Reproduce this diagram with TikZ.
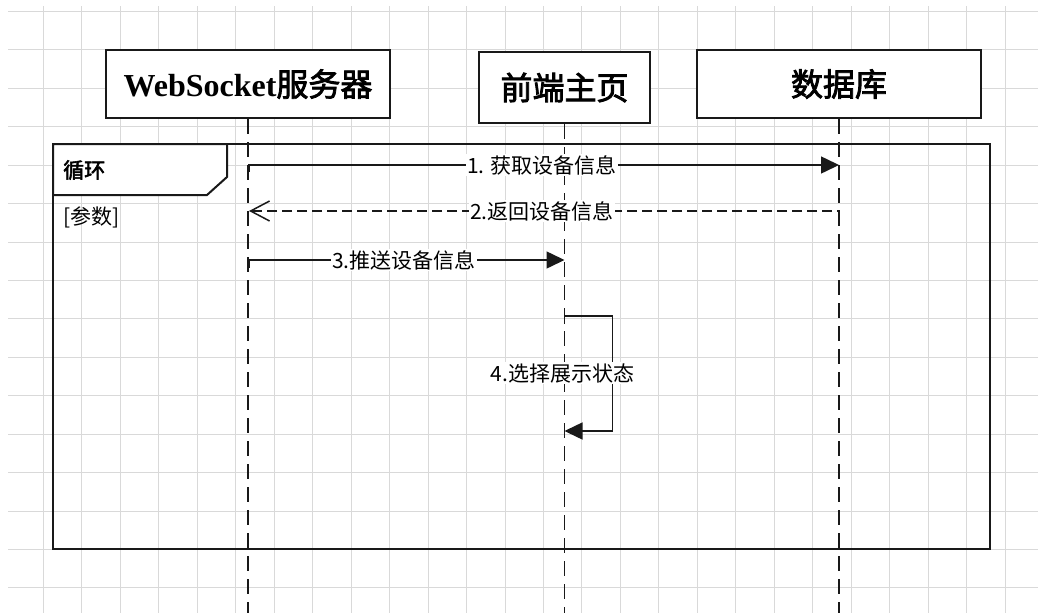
\documentclass[tikz,border=0pt]{standalone}
\usepackage{fontspec}
\setmainfont{Liberation Serif}
\newfontfamily\cjk[AutoFakeBold=2.5]{Noto Sans CJK SC}
\usetikzlibrary{arrows.meta}
\tikzset{
  gridline/.style={draw=black!15, line width=1pt},
  actor/.style={draw=black!90, line width=2pt, fill=white, inner sep=0pt,
    font=\fontsize{32}{36}\selectfont},
  lifeline/.style={draw=black!90, line width=1.8pt, dash pattern=on 15pt off 8pt},
  frameline/.style={draw=black!90, line width=2pt},
  msg/.style={draw=black!90, line width=1.5pt, -{Triangle[length=18pt,width=17pt]}},
  retmsg/.style={draw=black!90, line width=1.5pt, dash pattern=on 10pt off 5pt,
    -{Straight Barb[length=19pt,width=20pt,line width=1.5pt]}},
  msglabel/.style={fill=white, inner sep=1pt, font=\cjk\fontsize{21}{24}\selectfont},
  framelabel/.style={anchor=west, inner sep=0pt, font=\cjk\fontsize{21}{24}\selectfont}
}
\begin{document}
\begin{tikzpicture}[x=1pt,y=-1pt]
\useasboundingbox (0,0) rectangle (1038,613);
% grid
\foreach \i in {0,...,25} \draw[gridline] ({round(43+38.46*\i)+0.5},6) -- ({round(43+38.46*\i)+0.5},613);
\foreach \j in {0,...,15} \draw[gridline] (8,{round(11+38.43*\j)+0.5}) -- (1038,{round(11+38.43*\j)+0.5});

% actors
\node[actor, minimum width=284pt, minimum height=68pt] (ws) at (248,84)
  {{\bfseries WebSocket}{\cjk\bfseries 服务器}};
\node[actor, minimum width=171pt, minimum height=71pt] (fe) at (564.5,87.5)
  {\cjk\bfseries 前端主页};
\node[actor, minimum width=284pt, minimum height=68pt] (db) at (839,84)
  {\cjk\bfseries 数据库};

% lifeline ends
\coordinate (wsend) at (248,613);
\coordinate (feend) at (564.5,613);
\coordinate (dbend) at (839,613);
\draw[lifeline] (ws.south) -- (wsend);
\draw[lifeline] (fe.south) -- (feend);
\draw[lifeline] (db.south) -- (dbend);

% loop frame
\draw[frameline] (53,144) rectangle (990,549);
\draw[frameline, fill=white] (53,144) -- (227,144) -- (227,177) -- (207,195) -- (53,195) -- cycle;
\node[framelabel, font=\cjk\bfseries\fontsize{21}{24}\selectfont] (looplbl) at (63,170) {循环};
\node[framelabel] (guard) at (63,217) {[参数]};

% message coordinates
\coordinate (m1t) at (249,172);
\coordinate (m1s) at (249,165);
\coordinate (m1e) at (839,165);
\coordinate (m2t) at (839,219);
\coordinate (m2s) at (839,211);
\coordinate (m2e) at (249,211);
\coordinate (m3t) at (249,268);
\coordinate (m3s) at (249,260);
\coordinate (m3e) at (564.5,260);
\coordinate (m4t) at (564.5,324);
\coordinate (m4s) at (564.5,316);
\coordinate (m4a) at (612.7,316);
\coordinate (m4b) at (612.7,431);
\coordinate (m4e) at (564.5,431);

\draw[msg] (m1t) -- (m1s) -- (m1e);
\draw[retmsg] (m2t) -- (m2s) -- (m2e);
\draw[msg] (m3t) -- (m3s) -- (m3e);
\draw[msg] (m4t) -- (m4s) -- (m4a) -- (m4b) -- (m4e);

\node[msglabel] (l1) at (542,165) {1. 获取设备信息};
\node[msglabel] (l2) at (542,211) {2.返回设备信息};
\node[msglabel] (l3) at (404,260) {3.推送设备信息};
\node[msglabel] (l4) at (562.5,373) {4.选择展示状态};
\end{tikzpicture}
\end{document}
